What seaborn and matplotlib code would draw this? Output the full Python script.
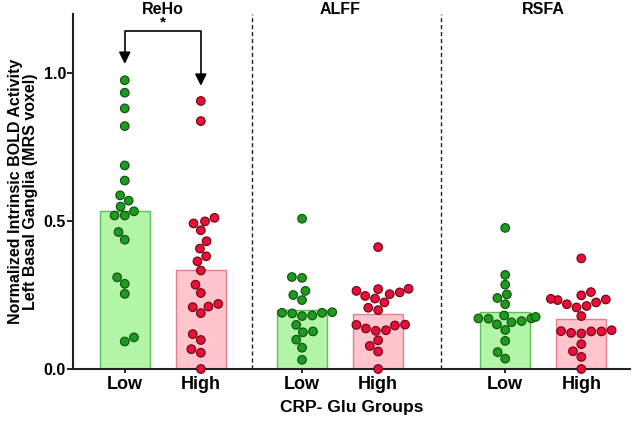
import numpy as np
import pandas as pd
import matplotlib
matplotlib.use("Agg")
import matplotlib.pyplot as plt
import matplotlib.colors as mcolors
import seaborn as sns

# ---- data ----
measures = ["ReHo", "ALFF", "RSFA"]
groups = ["Low", "High"]
positions = [0.0, 1.0, 2.33, 3.33, 5.0, 6.0]
divider_x = [1.67, 4.16]

reho_low = [0.976, 0.934, 0.881, 0.821, 0.688, 0.637, 0.587, 0.569, 0.549, 0.533,
            0.519, 0.519, 0.463, 0.437, 0.310, 0.288, 0.254, 0.107, 0.093]
reho_high = [0.906, 0.838, 0.511, 0.492, 0.499, 0.469, 0.432, 0.407, 0.381, 0.364,
             0.333, 0.285, 0.257, 0.220, 0.209, 0.211, 0.189, 0.118, 0.098, 0.067,
             0.055, 0.0]
alff_low = [0.508, 0.311, 0.308, 0.264, 0.250, 0.233, 0.190, 0.181, 0.192, 0.179,
            0.188, 0.190, 0.149, 0.124, 0.127, 0.099, 0.072, 0.031]
alff_high = [0.412, 0.270, 0.259, 0.238, 0.247, 0.253, 0.264, 0.271, 0.225, 0.207,
             0.199, 0.149, 0.137, 0.129, 0.131, 0.147, 0.150, 0.097, 0.078, 0.059,
             0.0]
rsfa_low = [0.477, 0.318, 0.285, 0.252, 0.240, 0.219, 0.171, 0.176, 0.181, 0.171,
            0.170, 0.162, 0.158, 0.151, 0.132, 0.095, 0.057, 0.035]
rsfa_high = [0.374, 0.260, 0.249, 0.235, 0.225, 0.233, 0.237, 0.219, 0.208, 0.213,
             0.179, 0.128, 0.127, 0.120, 0.122, 0.127, 0.131, 0.084, 0.060, 0.041,
             0.0]

series = [reho_low, reho_high, alff_low, alff_high, rsfa_low, rsfa_high]
series_group = ["Low", "High", "Low", "High", "Low", "High"]

bar_fill = {"Low": "#b3f5a6", "High": "#ffc4cc"}
bar_edge = {"Low": "#5cbf5c", "High": "#e0808f"}
dot_fill = {"Low": "#1e9a1e", "High": "#e8103a"}
dot_edge = {"Low": "#0d4d0d", "High": "#6a0010"}

rows = []
for pos, vals, g in zip(positions, series, series_group):
    for v in vals:
        rows.append({"x": pos, "value": v, "group": g})
df = pd.DataFrame(rows)

# ---- plot ----
sns.set_style("ticks")
plt.rcParams["font.family"] = ["Liberation Sans", "DejaVu Sans"]
plt.rcParams["font.weight"] = "bold"
plt.rcParams["text.color"] = "black"
plt.rcParams["axes.labelcolor"] = "black"
plt.rcParams["xtick.color"] = "black"
plt.rcParams["ytick.color"] = "black"

fig = plt.figure(figsize=(6.33, 4.24), dpi=100)
ax = fig.add_axes([73 / 633, 55 / 424, 557 / 633, 355 / 424])

sns.barplot(data=df, x="x", y="value", hue="group", hue_order=groups,
            native_scale=True, dodge=False, errorbar=None, width=0.66,
            palette=bar_fill, saturation=1, linewidth=1.0, legend=False,
            ax=ax, zorder=1)
fill_to_edge = {mcolors.to_hex(bar_fill[g]): bar_edge[g] for g in groups}
for p in ax.patches:
    fc = mcolors.to_hex(p.get_facecolor())
    if fc in fill_to_edge:
        p.set_edgecolor(fill_to_edge[fc])

n_before = len(ax.collections)
sns.swarmplot(data=df, x="x", y="value", hue="group", hue_order=groups,
              native_scale=True, dodge=False, size=6.2, palette=dot_fill,
              edgecolor="#222222", linewidth=0.8, legend=False, ax=ax,
              zorder=3, clip_on=False)
fill_to_dedge = {mcolors.to_hex(dot_fill[g]): dot_edge[g] for g in groups}
for coll in ax.collections[n_before:]:
    fcs = coll.get_facecolors()
    ecs = [fill_to_dedge.get(mcolors.to_hex(fc), "#222222") for fc in fcs]
    coll.set_edgecolors(ecs)

for dx in divider_x:
    ax.axvline(dx, color="#222222", linestyle=(0, (3, 2)), linewidth=1.0, zorder=0)

ax.set_xlim(-0.68, 6.64)
ax.set_ylim(0, 1.2)
ax.set_yticks([0.0, 0.5, 1.0])
ax.set_yticklabels(["0.0", "0.5", "1.0"], fontsize=11.5, fontweight="bold")
ax.set_xticks(positions)
ax.set_xticklabels(series_group, fontsize=13, fontweight="bold")
ax.tick_params(axis="x", length=3, width=1.2, pad=2)
ax.tick_params(axis="y", length=4, width=1.2, pad=1)
for s in ["left", "bottom"]:
    ax.spines[s].set_linewidth(1.5)
    ax.spines[s].set_color("#222222")
sns.despine(ax=ax)

ax.set_xlabel("CRP- Glu Groups", fontsize=12.5, fontweight="bold", labelpad=5)
ax.set_ylabel("Normalized Intrinsic BOLD Activity\nLeft Basal Ganglia (MRS voxel)",
              fontsize=11.5, fontweight="bold", labelpad=4, linespacing=1.05)

# group titles
title_x = [(positions[0] + positions[1]) / 2, (positions[2] + positions[3]) / 2,
           (positions[4] + positions[5]) / 2]
for tx, name in zip(title_x, measures):
    ax.text(tx, 1.215, name, ha="center", va="center", fontsize=11.5,
            fontweight="bold", clip_on=False)

# significance bracket
by = 1.142
ax.plot([positions[0], positions[0], positions[1], positions[1]],
        [1.06, by, by, 0.985], color="black", linewidth=1.2, clip_on=False)
ax.annotate("", xy=(positions[0], 1.022), xytext=(positions[0], 1.07),
            arrowprops=dict(arrowstyle="-|>,head_width=0.35,head_length=0.7",
                            color="black", lw=1.2))
ax.annotate("", xy=(positions[1], 0.948), xytext=(positions[1], 0.995),
            arrowprops=dict(arrowstyle="-|>,head_width=0.35,head_length=0.7",
                            color="black", lw=1.2))
ax.text((positions[0] + positions[1]) / 2, by + 0.005, "*", ha="center",
        va="bottom", fontsize=11, fontweight="bold")

fig.savefig("out.png", dpi=100)
